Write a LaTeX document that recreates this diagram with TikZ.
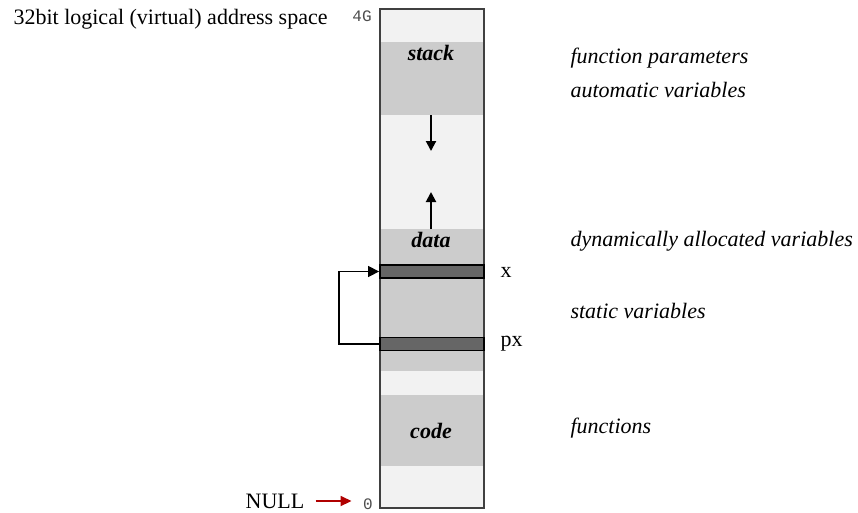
\documentclass[tikz,border=0pt]{standalone}
\usepackage{fontspec}
\setmainfont{Liberation Serif}
\newfontfamily\addrfont{Liberation Mono}
\usetikzlibrary{arrows.meta}

\definecolor{mem_light}{HTML}{F2F2F2}
\definecolor{mem_seg}{HTML}{CCCCCC}
\definecolor{mem_var}{HTML}{666666}
\definecolor{null_red}{HTML}{B00000}

\tikzset{
  seg_label/.style={font=\fontsize{22}{26}\selectfont\bfseries\itshape},
  note_label/.style={font=\fontsize{22}{26}\selectfont\itshape, anchor=west},
  var_label/.style={font=\fontsize{22}{26}\selectfont, anchor=west},
  addr_label/.style={font=\addrfont\fontsize{16}{18}\selectfont, text=black!70, inner sep=1pt},
  var_box/.style={draw=black, line width=1.8pt, fill=mem_var},
}

\begin{document}
\begin{tikzpicture}[x=1pt, y=-1pt]
      \useasboundingbox (0,0) rectangle (858,512);

      % 1. 整個位址空間
      \fill[mem_light] (380,9) rectangle (484,508);

      % 2. 各區段
      \fill[mem_seg] (380,42) rectangle (484,115);
      \fill[mem_seg] (380,229) rectangle (484,371);
      \fill[mem_seg] (380,395) rectangle (484,466);
      \draw[black!75, line width=1.4pt] (380,9) rectangle (484,508);

      \node[seg_label] (stack) at (431,53) {stack};
      \node[seg_label] (data) at (431,240) {data};
      \node[seg_label] (code) at (431,431) {code};

      % 3. 堆疊與堆積的成長方向
      \coordinate (stack_end) at (431,115);
      \coordinate (stack_tip) at (431,151);
      \coordinate (heap_end) at (431,229);
      \coordinate (heap_tip) at (431,192);
      \draw[-{Triangle[length=10pt, width=10pt]}, line width=2pt] (stack_end) -- (stack_tip);
      \draw[-{Triangle[length=10pt, width=10pt]}, line width=2pt] (heap_end) -- (heap_tip);

      % 4. 變數 x 與 px
      \node[var_box, minimum width=104pt, minimum height=13pt, inner sep=0pt] (x) at (432,271.5) {};
      \node[var_box, minimum width=104pt, minimum height=13pt, inner sep=0pt] (px) at (432,344) {};
      \node[var_label] (x_lab) at (497,272) {x};
      \node[var_label] (px_lab) at (497,344) {px};

      % 5. px 指向 x
      \draw[-{Triangle[length=11pt, width=11pt]}, line width=1.3pt] (px.west) -- ++(-40,0) |- (x.west);

      % 6. 位址
      \node[addr_label] (addr_top) at (362,16) {4G};
      \node[addr_label] (addr_zero) at (368,504) {0};
      \node[font=\fontsize{22}{26}\selectfont, inner sep=1pt] (null) at (275,501) {NULL};
      \draw[null_red, line width=1.8pt, -{Triangle[length=11pt, width=10pt]}] (null.east) ++(10,0) -- ++(36,0);

      % 7. 說明文字
      \node[font=\fontsize{22}{26}\selectfont, anchor=west] (title) at (10,19) {32bit logical (virtual) address space};
      \node[note_label] (n_param) at (567,58) {function parameters};
      \node[note_label] (n_auto) at (567,90) {automatic variables};
      \node[note_label] (n_dyn) at (567,241) {dynamically allocated variables};
      \node[note_label] (n_static) at (567,311) {static variables};
      \node[note_label] (n_func) at (567,428) {functions};
\end{tikzpicture}
\end{document}
